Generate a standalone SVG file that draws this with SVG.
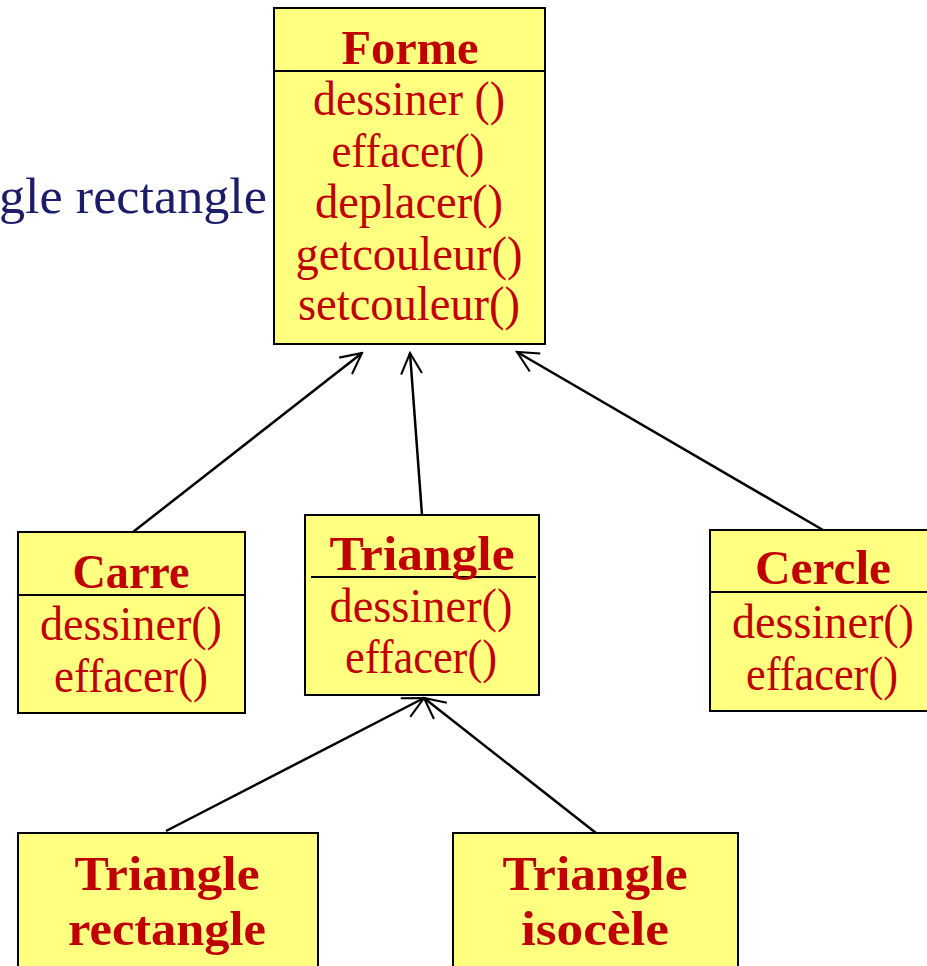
<svg xmlns="http://www.w3.org/2000/svg" width="927" height="966" viewBox="0 0 927 966">
  <style>
    .box { fill: #FFFF80; stroke: #000; stroke-width: 2; }
    .sep { stroke: #000; stroke-width: 2; }
    .title { font-family: "Liberation Serif", serif; font-weight: bold; font-size: 49px; fill: #C00000; text-anchor: middle; }
    .op { font-family: "Liberation Serif", serif; font-size: 48px; fill: #C00000; text-anchor: middle; }
    .note { font-family: "Liberation Serif", serif; font-size: 51px; fill: #1C1C6A; text-anchor: end; }
    .link { stroke: #000; stroke-width: 2.5; fill: none; marker-end: url(#open); }
  </style>
  <defs>
    <marker id="open" viewBox="0 0 12 12" refX="11" refY="6" markerWidth="10" markerHeight="10" markerUnits="strokeWidth" orient="auto">
      <path d="M1,1 L11,6 L1,11" fill="none" stroke="#000" stroke-width="1"/>
    </marker>
  </defs>

  <rect width="927" height="966" fill="#fff"/>

  <!-- label cut at the left edge -->
  <text class="note" x="267" y="213" textLength="268" lengthAdjust="spacingAndGlyphs">gle rectangle</text>

  <g id="connectors">
    <line class="link" x1="133" y1="532" x2="362" y2="353"/>
    <line class="link" x1="422" y1="515" x2="410" y2="353"/>
    <line class="link" x1="823" y1="530" x2="517" y2="352"/>
    <line class="link" x1="166" y1="831" x2="424" y2="698"/>
    <line class="link" x1="596" y1="833" x2="424" y2="698"/>
  </g>

  <g id="forme">
    <rect class="box" x="274" y="8" width="271" height="336"/>
    <line class="sep" x1="274" y1="71" x2="545" y2="71"/>
    <text class="title" x="410" y="64" textLength="137" lengthAdjust="spacingAndGlyphs">Forme</text>
    <text class="op" x="409" y="115" textLength="192" lengthAdjust="spacingAndGlyphs">dessiner ()</text>
    <text class="op" x="408" y="167" textLength="153" lengthAdjust="spacingAndGlyphs">effacer()</text>
    <text class="op" x="409" y="218" textLength="188" lengthAdjust="spacingAndGlyphs">deplacer()</text>
    <text class="op" x="409" y="270" textLength="227" lengthAdjust="spacingAndGlyphs">getcouleur()</text>
    <text class="op" x="409" y="320" textLength="222" lengthAdjust="spacingAndGlyphs">setcouleur()</text>
  </g>

  <g id="carre">
    <rect class="box" x="18" y="532" width="227" height="181"/>
    <line class="sep" x1="18" y1="595" x2="245" y2="595"/>
    <text class="title" x="131" y="588" textLength="117" lengthAdjust="spacingAndGlyphs">Carre</text>
    <text class="op" x="131" y="640" textLength="182" lengthAdjust="spacingAndGlyphs">dessiner()</text>
    <text class="op" x="131" y="692" textLength="154" lengthAdjust="spacingAndGlyphs">effacer()</text>
  </g>

  <g id="triangle">
    <rect class="box" x="305" y="515" width="234" height="180"/>
    <line class="sep" x1="311" y1="577" x2="536" y2="577"/>
    <text class="title" x="422" y="570" textLength="185" lengthAdjust="spacingAndGlyphs">Triangle</text>
    <text class="op" x="421" y="622" textLength="183" lengthAdjust="spacingAndGlyphs">dessiner()</text>
    <text class="op" x="421" y="673" textLength="152" lengthAdjust="spacingAndGlyphs">effacer()</text>
  </g>

  <g id="cercle">
    <rect class="box" x="710" y="530" width="230" height="181"/>
    <line class="sep" x1="710" y1="592" x2="927" y2="592"/>
    <text class="title" x="823" y="584" textLength="136" lengthAdjust="spacingAndGlyphs">Cercle</text>
    <text class="op" x="823" y="638" textLength="182" lengthAdjust="spacingAndGlyphs">dessiner()</text>
    <text class="op" x="822" y="690" textLength="152" lengthAdjust="spacingAndGlyphs">effacer()</text>
  </g>

  <g id="triangle-rectangle">
    <rect class="box" x="18" y="833" width="300" height="150"/>
    <text class="title" x="167" y="890" textLength="185" lengthAdjust="spacingAndGlyphs">Triangle</text>
    <text class="title" x="167" y="945" textLength="198" lengthAdjust="spacingAndGlyphs">rectangle</text>
  </g>

  <g id="triangle-isocele">
    <rect class="box" x="453" y="833" width="285" height="150"/>
    <text class="title" x="595" y="890" textLength="185" lengthAdjust="spacingAndGlyphs">Triangle</text>
    <text class="title" x="595" y="945" textLength="148" lengthAdjust="spacingAndGlyphs">isocèle</text>
  </g>
</svg>
